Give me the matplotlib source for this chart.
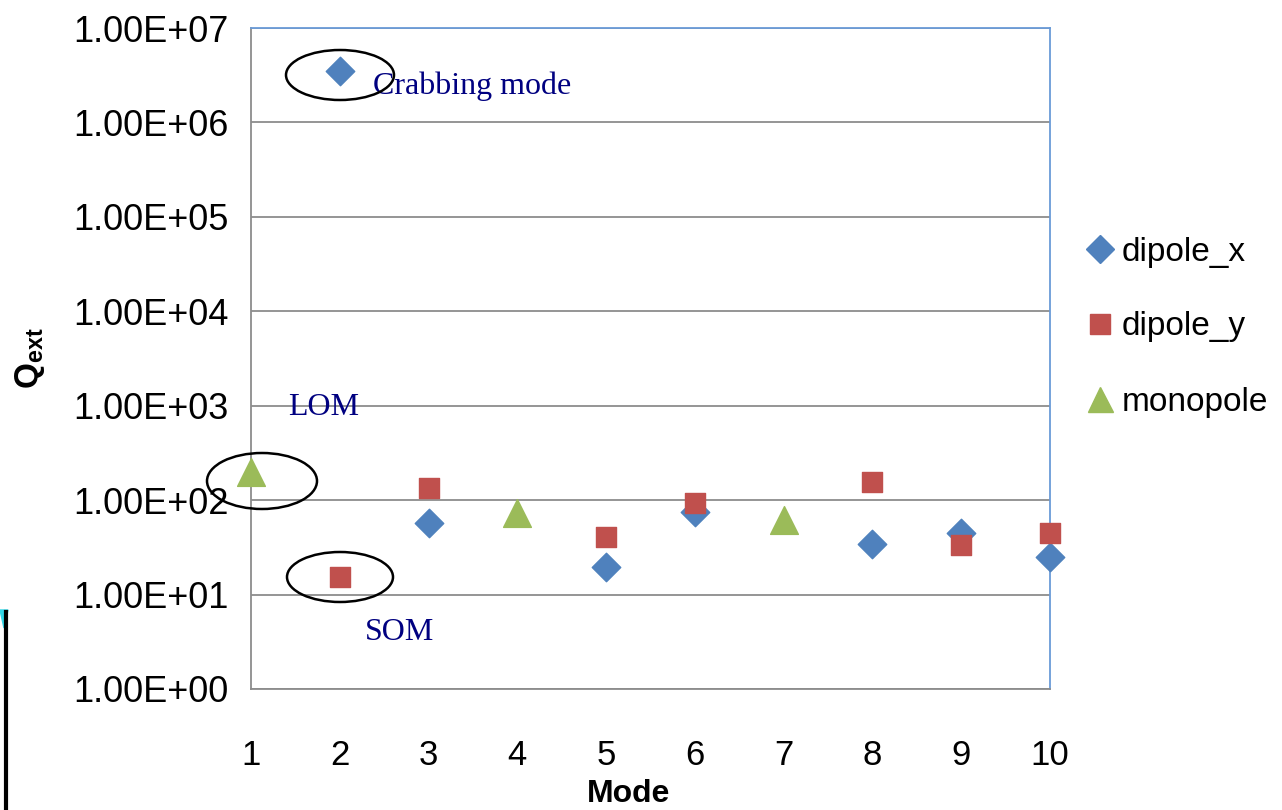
import matplotlib
matplotlib.use("Agg")
import matplotlib.pyplot as plt
from matplotlib.patches import Ellipse, Polygon
from matplotlib.lines import Line2D

# data
dipole_x_mode = [2, 3, 5, 6, 8, 9, 10]
dipole_x_q = [3.5e6, 57, 19.6, 75, 34, 45, 25]
dipole_y_mode = [2, 3, 5, 6, 8, 9, 10]
dipole_y_q = [15.4, 135, 41, 93, 156, 33.5, 45]
monopole_mode = [1, 4, 7]
monopole_q = [199, 73, 62]

y_ticks = [1e0, 1e1, 1e2, 1e3, 1e4, 1e5, 1e6, 1e7]
y_tick_labels = ["1.00E+00", "1.00E+01", "1.00E+02", "1.00E+03",
                 "1.00E+04", "1.00E+05", "1.00E+06", "1.00E+07"]
x_ticks = list(range(1, 11))

W, H = 1282, 810
fig = plt.figure(figsize=(W / 100, H / 100), dpi=100)
ax = fig.add_axes([251 / W, 1 - 689 / H, (1050 - 251) / W, (689 - 28) / H])

font = "Liberation Sans"

ax.scatter(dipole_x_mode, dipole_x_q, marker="D", s=210, color="#4F81BD",
           zorder=3, clip_on=False, label="dipole_x")
ax.scatter(dipole_y_mode, dipole_y_q, marker="s", s=225, color="#C0504D",
           zorder=3, clip_on=False, label="dipole_y")
ax.scatter(monopole_mode, monopole_q, marker="^", s=400, color="#9BBB59",
           zorder=3, clip_on=False, label="monopole")

ax.set_yscale("log")
ax.set_ylim(1e0, 1e7)
ax.set_xlim(1, 10)
ax.set_yticks(y_ticks)
ax.set_yticklabels(y_tick_labels, fontsize=26, family=font)
ax.minorticks_off()
ax.set_xticks(x_ticks)
ax.set_xticklabels([str(m) for m in x_ticks], fontsize=25, family=font)
ax.tick_params(axis="y", length=0, pad=16)
ax.tick_params(axis="x", length=0, pad=36)
ax.yaxis.grid(True, color="#8c8c8c", linewidth=1.3)
ax.set_axisbelow(True)

for side in ["left", "bottom"]:
    ax.spines[side].set_color("#8c8c8c")
    ax.spines[side].set_linewidth(1.3)
for side in ["top", "right"]:
    ax.spines[side].set_color("#6a9bd8")
    ax.spines[side].set_linewidth(1.3)

# axis titles
fig.text(629 / W, 1 - 794 / H, "Mode", fontsize=23, fontweight="bold",
         family=font, ha="center", va="center")
fig.text(30 / W, 1 - 358 / H, r"Q$_{\mathregular{ext}}$", rotation=90,
         fontsize=24, fontweight="bold", family=font,
         ha="center", va="center")

# legend
handles = [
    Line2D([], [], marker="D", linestyle="", color="#4F81BD", markersize=14),
    Line2D([], [], marker="s", linestyle="", color="#C0504D", markersize=15),
    Line2D([], [], marker="^", linestyle="", color="#9BBB59", markersize=18),
]
fig.legend(handles, ["dipole_x", "dipole_y", "monopole"],
           loc="center left", bbox_to_anchor=(1075 / W, 1 - 327 / H),
           frameon=False, prop={"family": font, "size": 24},
           handlelength=0.7, handletextpad=0.3, labelspacing=1.32,
           borderaxespad=0)

# annotations
ann_font = {"family": "Liberation Serif", "size": 23, "color": "#000080"}
fig.text(373 / W, 1 - 86 / H, "Crabbing mode", ha="left", va="center",
         **ann_font)
fig.text(288 / W, 1 - 408 / H, "LOM", ha="left", va="center", **ann_font)
fig.text(365 / W, 1 - 632 / H, "SOM", ha="left", va="center", **ann_font)

for cx, cy, ew, eh in [(340, 75, 108, 50), (262, 481, 110, 56),
                       (340, 577, 106, 50)]:
    fig.add_artist(Ellipse((cx / W, 1 - cy / H), ew / W, eh / H,
                           transform=fig.transFigure, fill=False,
                           edgecolor="black", linewidth=1.8, zorder=5))

# stray slide element at the lower left edge
fig.add_artist(Line2D([6 / W, 6 / W], [0, 1 - 612 / H],
                      transform=fig.transFigure, color="black", linewidth=3))
fig.add_artist(Polygon([(0, 1 - 610 / H), (8 / W, 1 - 610 / H),
                        (4 / W, 1 - 628 / H)], closed=True,
                       transform=fig.transFigure, color="#33d6e6"))

fig.savefig("out.png", dpi=100)
